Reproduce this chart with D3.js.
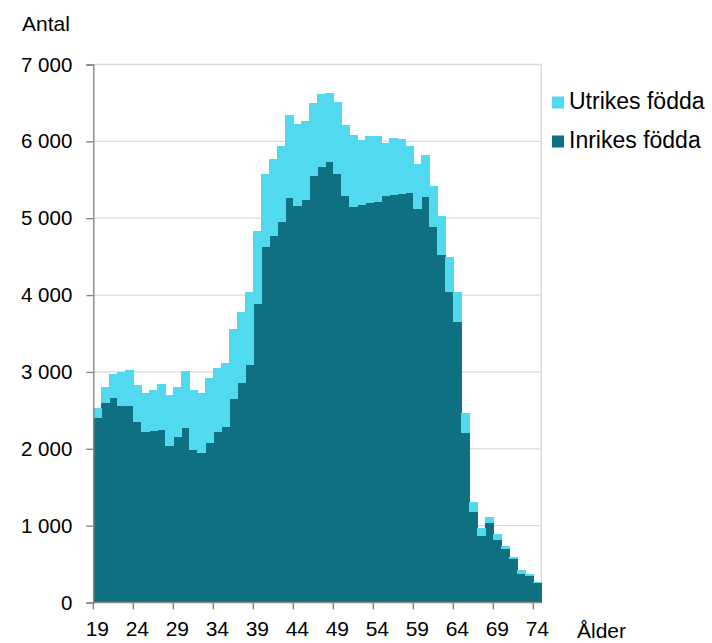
<!DOCTYPE html>
<html>
<head>
<meta charset="utf-8">
<script src="https://cdn.jsdelivr.net/npm/d3@7"></script>
<style>
  html, body { margin: 0; padding: 0; background: #fff; }
  svg { display: block; }
  text { font-family: "Liberation Sans", Arial, sans-serif; fill: #000; }
</style>
</head>
<body>
<svg id="chart" width="712" height="643"></svg>
<script>
const ages = d3.range(19, 75);
const inrikes = [2404,2595,2664,2552,2556,2348,2221,2234,2248,2031,
  2148,2273,1987,1940,2074,2217,2283,2643,2850,3090,
  3884,4626,4770,4952,5264,5164,5238,5547,5668,5733,
  5573,5286,5151,5177,5199,5212,5290,5299,5320,5322,
  5125,5270,4883,4524,4040,3654,2209,1172,868,1033,
  811,690,560,369,342,255];
const utrikes = [122,204,309,443,465,478,500,526,591,672,
  659,739,773,785,853,828,833,912,935,948,
  947,955,998,989,1081,1064,1029,954,950,899,
  941,925,934,846,877,856,694,743,709,619,
  584,552,531,504,452,382,252,138,99,78,
  74,39,26,52,30,13];
const yTicks = [0,1000,2000,3000,4000,5000,6000,7000];
const xTickAges = [19,24,29,34,39,44,49,54,59,64,69,74];
const seriesNames = ["Inrikes födda", "Utrikes födda"];
const colors = {"Inrikes födda": "#0e7080", "Utrikes födda": "#50d9ef"};

const rows = ages.map((a, i) => ({age: a, "Inrikes födda": inrikes[i], "Utrikes födda": utrikes[i]}));
const stack = d3.stack().keys(seriesNames)(rows);

const svg = d3.select("#chart");
const pL = 93.3, pR = 541.3, pT = 64.5, pB = 602.5;

const x = d3.scaleBand().domain(ages).range([pL, pR]).padding(0);
const y = d3.scaleLinear().domain([0, 7000]).range([pB, pT]);

// gridlines
svg.append("g").selectAll("line").data(yTicks.filter(t => t > 0)).join("line")
  .attr("x1", pL).attr("x2", pR)
  .attr("y1", d => y(d)).attr("y2", d => y(d))
  .attr("stroke", "#d9d9d9").attr("stroke-width", 1.3);
// right border
svg.append("line").attr("x1", pR).attr("x2", pR).attr("y1", pT).attr("y2", pB)
  .attr("stroke", "#d9d9d9").attr("stroke-width", 1.3);

// bars
svg.append("g").selectAll("g").data(stack).join("g")
  .attr("fill", d => colors[d.key])
  .selectAll("rect").data(d => d).join("rect")
  .attr("x", d => x(d.data.age))
  .attr("width", x.bandwidth() + 0.3)
  .attr("y", d => y(d[1]))
  .attr("height", d => y(d[0]) - y(d[1]))
  .attr("shape-rendering", "crispEdges");

// y axis
const yAxis = d3.axisLeft(y).tickValues(yTicks).tickSize(7).tickPadding(14)
  .tickFormat(d => d3.format(",")(d).replace(/,/g, "\u00a0"));
const gy = svg.append("g").attr("transform", `translate(${pL},0)`).call(yAxis);
gy.select(".domain").attr("stroke", "#888").attr("stroke-width", 1.4);
gy.selectAll(".tick line").attr("stroke", "#888").attr("stroke-width", 1.4);
gy.selectAll(".tick text").style("font-size", "20.5px").attr("fill", "#000");

// x axis: ticks at left edge of bands, labels centred in bands
const xAxis = d3.axisBottom(x).tickValues(xTickAges).tickSize(7).tickPadding(12);
const gx = svg.append("g").attr("transform", `translate(0,${pB})`).call(xAxis);
gx.select(".domain").attr("stroke", "#888").attr("stroke-width", 1.4).attr("d", `M${pL},0H${pR}`);
gx.selectAll(".tick line").attr("stroke", "#888").attr("stroke-width", 1.4)
  .attr("x1", -x.bandwidth() / 2).attr("x2", -x.bandwidth() / 2);
gx.selectAll(".tick text").style("font-size", "21px").attr("fill", "#000");

// axis titles
svg.append("text").attr("x", 22).attr("y", 31).style("font-size", "21px").text("Antal");
svg.append("text").attr("x", 577).attr("y", 638).style("font-size", "21px").text("Ålder");

// legend
const legendItems = ["Utrikes födda", "Inrikes födda"];
const lg = svg.append("g").selectAll("g").data(legendItems).join("g")
  .attr("transform", (d, i) => `translate(552,${96.5 + i * 39})`);
lg.append("rect").attr("width", 12).attr("height", 12).attr("fill", d => colors[d]);
lg.append("text").attr("x", 17).attr("y", 12).style("font-size", "23px").text(d => d);
</script>
</body>
</html>
